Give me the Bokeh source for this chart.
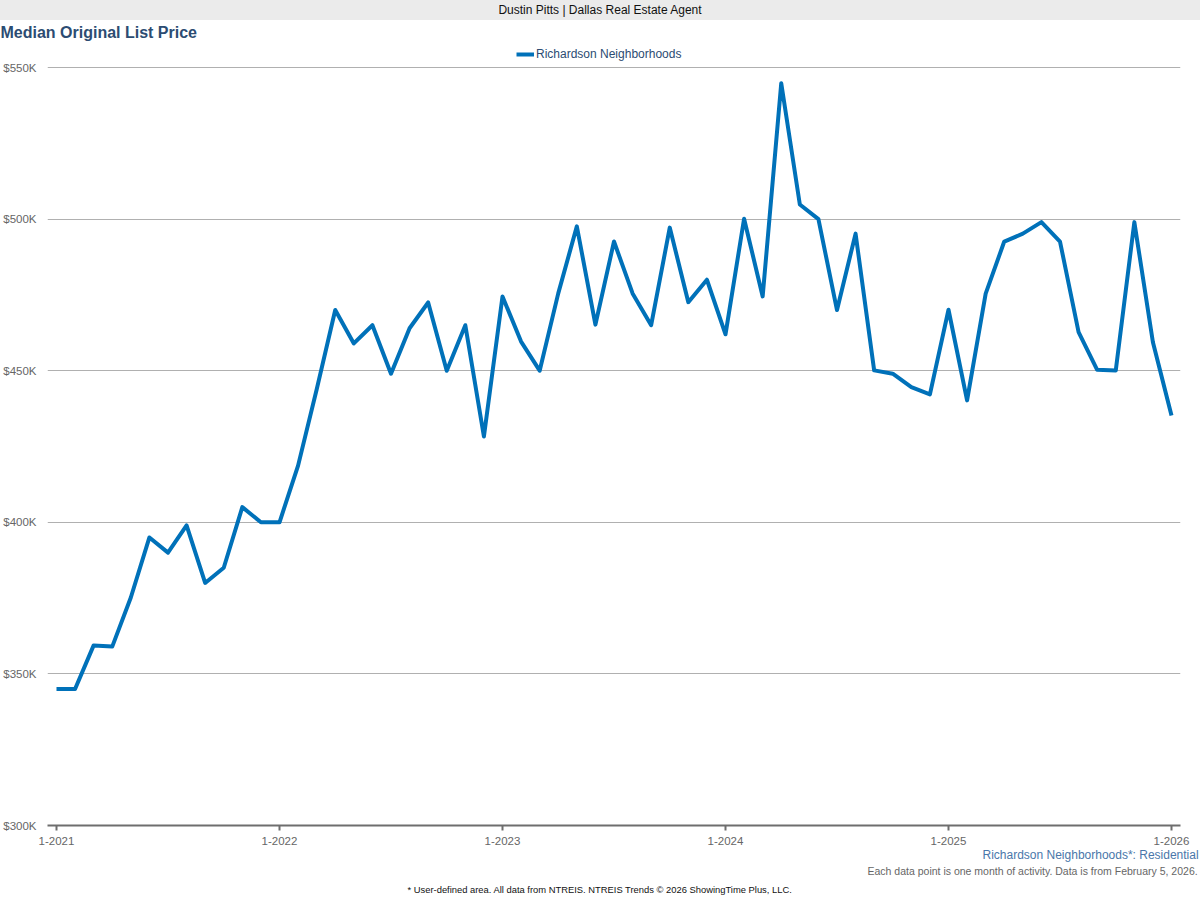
from bokeh.plotting import figure
from bokeh.models import (Range1d, FixedTicker, Legend, LegendItem, Title, Div,
                          ColumnDataSource)
from bokeh.layouts import column
from bokeh.embed import file_html
from bokeh.resources import INLINE

header_text = "Dustin Pitts | Dallas Real Estate Agent"
chart_title = "Median Original List Price"
series_name = "Richardson Neighborhoods"
footer_area = "Richardson Neighborhoods*: Residential"
footer_note = "Each data point is one month of activity. Data is from February 5, 2026."
footer_source = "* User-defined area. All data from NTREIS. NTREIS Trends \u00a9 2026 ShowingTime Plus, LLC."

# monthly values, 1-2021 .. 1-2026
median_price = [
    345000, 345000, 359400, 359000, 375200, 395000, 390000, 399000, 380000, 385000, 405000, 400000,
    400000, 418700, 443800, 470000, 459000, 465000, 449000, 464000, 472500, 450000, 465000, 428300,
    474500, 459600, 450000, 475500, 497600, 465200, 492600, 475500, 465000, 497200, 472600, 480000,
    462000, 500100, 474500, 544800, 504800, 500000, 470000, 495200, 450100, 449000, 444600, 442200,
    470100, 440200, 475400, 492600, 495200, 499000, 492600, 462700, 450300, 450100, 499000, 459400,
    435200,
]
month_index = list(range(len(median_price)))

x_tick_months = [0, 12, 24, 36, 48, 60]
x_tick_labels = ["1-2021", "1-2022", "1-2023", "1-2024", "1-2025", "1-2026"]
y_tick_values = [300000, 350000, 400000, 450000, 500000, 550000]
y_tick_labels = ["$300K", "$350K", "$400K", "$450K", "$500K", "$550K"]

FONT = "Liberation Sans"
LINE_COLOR = "#0071b9"
TITLE_COLOR = "#2c4c72"

src = ColumnDataSource(data=dict(x=month_index, y=median_price))

p = figure(width=1200, height=880, output_backend="svg", toolbar_location=None,
           x_range=Range1d(-0.484, 60.484), y_range=Range1d(300000, 557256),
           title=chart_title,
           min_border_left=38, min_border_right=20, min_border_top=25, min_border_bottom=0)

p.title.align = "left"
p.title.offset = -47
p.title.vertical_align = "top"
p.title.text_font = FONT
p.title.text_font_size = "16px"
p.title.text_font_style = "bold"
p.title.text_color = TITLE_COLOR
p.title.standoff = 5

r = p.line(x="x", y="y", source=src, line_color=LINE_COLOR, line_width=4, line_join="round")

legend = Legend(items=[LegendItem(label=series_name, renderers=[r])],
                orientation="horizontal", location=(469, 764),
                border_line_color=None, background_fill_alpha=0,
                label_text_font=FONT, label_text_font_size="12px", label_text_color=TITLE_COLOR,
                glyph_width=18, glyph_height=14, label_height=14, label_standoff=2,
                padding=0, margin=0)
p.add_layout(legend, "center")

p.outline_line_color = None
p.background_fill_color = "white"
p.border_fill_color = "white"

p.xgrid.visible = False
p.ygrid.grid_line_color = "#b0b0b0"
p.ygrid.grid_line_width = 1

p.xaxis.ticker = FixedTicker(ticks=x_tick_months)
p.xaxis.major_label_overrides = dict(zip(x_tick_months, x_tick_labels))
p.xaxis.axis_line_color = "#6e6e6e"
p.xaxis.axis_line_width = 2
p.xaxis.major_tick_line_color = "#6e6e6e"
p.xaxis.major_tick_line_width = 2
p.xaxis.major_tick_out = 5
p.xaxis.major_tick_in = 0
p.xaxis.minor_tick_line_color = None
p.xaxis.major_label_standoff = 6
p.xaxis.major_label_text_font = FONT
p.xaxis.major_label_text_font_size = "11.5px"
p.xaxis.major_label_text_color = "#666666"

p.yaxis.ticker = FixedTicker(ticks=y_tick_values)
p.yaxis.major_label_overrides = dict(zip(y_tick_values, y_tick_labels))
p.yaxis.axis_line_color = None
p.yaxis.major_tick_line_color = None
p.yaxis.minor_tick_line_color = None
p.yaxis.major_label_standoff = 5
p.yaxis.major_label_text_font = FONT
p.yaxis.major_label_text_font_size = "11.5px"
p.yaxis.major_label_text_color = "#666666"

p.add_layout(Title(text=footer_area, align="left", offset=935, text_font=FONT,
                   text_font_size="12px", text_font_style="normal", text_color="#4a77aa",
                   standoff=-4), "below")
p.add_layout(Title(text=footer_note, align="left", offset=820, text_font=FONT,
                   text_font_size="10.5px", text_font_style="normal", text_color="#666666",
                   standoff=7), "below")
p.add_layout(Title(text=footer_source, align="left", offset=360, text_font=FONT,
                   text_font_size="9.4px", text_font_style="normal", text_color="#111111",
                   vertical_align="top", standoff=7), "below")

header = Div(text=header_text, width=1200, height=20,
             styles={"background-color": "#ebebeb", "text-align": "center",
                     "font-family": "'Liberation Sans', Arial, sans-serif",
                     "font-size": "12px", "line-height": "20px", "color": "#111111",
                     "width": "1200px", "height": "20px", "overflow": "hidden",
                     "margin": "0", "padding": "0", "box-sizing": "border-box"})

layout = column(header, p, spacing=0)

open("out.html", "w").write(file_html(layout, INLINE))
